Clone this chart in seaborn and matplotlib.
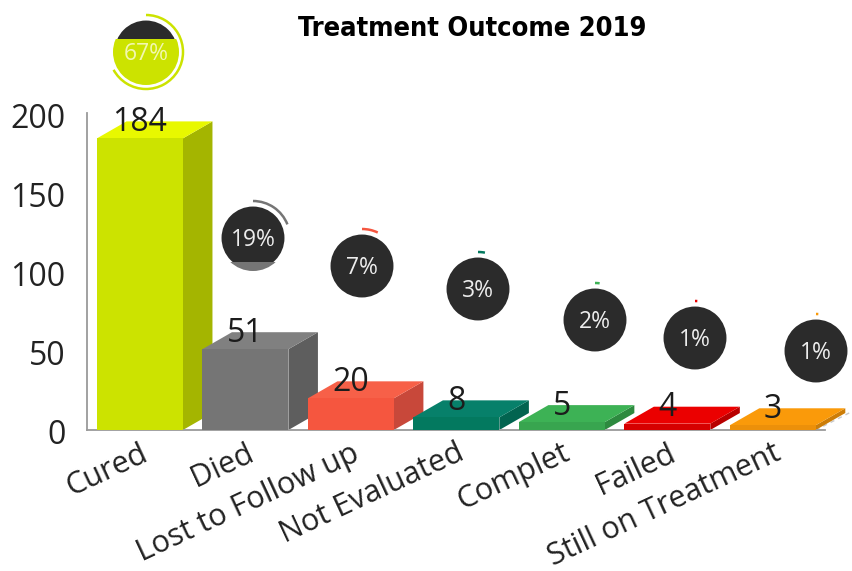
import matplotlib
matplotlib.use("Agg")
import matplotlib.pyplot as plt
import matplotlib.patches as mp
import matplotlib.transforms as mt
import pandas as pd
import seaborn as sns

categories = ["Cured", "Died", "Lost to Follow up", "Not Evaluated", "Complet", "Failed", "Still on Treatment"]
counts = [184, 51, 20, 8, 5, 4, 3]
shares = [67, 19, 7, 3, 2, 1, 1]
front_colors = ["#CCE300", "#757575", "#F5563F", "#03795F", "#38A54F", "#D60000", "#EC900A"]
side_colors = ["#A4B500", "#5E5E5E", "#C8483A", "#026450", "#2D8A3F", "#B80000", "#CC7D08"]
top_colors = ["#E8F800", "#808080", "#F76048", "#07806A", "#3DB255", "#EB0000", "#FA9A0A"]
arc_colors = ["#CCE300", "#757575", "#F5563F", "#03795F", "#3DB255", "#EB0000", "#FA9A0A"]
badge_centers = [(146, 52), (253, 238), (362, 266), (478, 289), (595, 320), (695, 338), (816, 351)]
badge_fill_levels = [0.69, 0.13, 0, 0, 0, 0, 0]

W, H = 852, 571
sns.set_theme(style="white")
plt.rcParams["font.family"] = ["Open Sans", "DejaVu Sans"]

fig = plt.figure(figsize=(W / 100, H / 100), dpi=100, facecolor="white")
ax = fig.add_axes([87 / W, (H - 430) / H, 738 / W, 317 / H])

df = pd.DataFrame({"category": categories, "count": counts})
sns.barplot(data=df, x="category", y="count", hue="category", palette=front_colors,
            dodge=False, width=0.815, saturation=1, legend=False, ax=ax, zorder=3, linewidth=0)
ax.set_xlim(-0.502, 6.495)
ax.set_ylim(0, 200)
ax.set_xlabel("")
ax.set_ylabel("")
ax.set_yticks([0, 50, 100, 150, 200])

# Extruded sides and tops of each block
half = 0.815 / 2
depth_x, depth_y = 0.28, 10.7
for i, (v, side, top) in enumerate(zip(counts, side_colors, top_colors)):
    r = i + half
    l = i - half
    ax.add_patch(mp.Polygon([(r, 0), (r + depth_x, depth_y), (r + depth_x, v + depth_y), (r, v)],
                            fc=side, ec="none", clip_on=False, zorder=2))
    ax.add_patch(mp.Polygon([(l, v), (l + depth_x, v + depth_y), (r + depth_x, v + depth_y), (r, v)],
                            fc=top, ec="none", clip_on=False, zorder=2))
    ax.text(i, v + 10, str(v), ha="center", va="center", fontsize=23, color="#1c1c1c", zorder=6, clip_on=False)

# Receding floor edge past the final block
ax.plot([6 + half, 6 + half + 0.33], [0, depth_y + 0.5], color="#c8c8c8", lw=1, ls=(0, (3, 3)),
        clip_on=False, zorder=1)

for s in ("top", "right"):
    ax.spines[s].set_visible(False)
for s in ("left", "bottom"):
    ax.spines[s].set_color("#9a9a9a")
    ax.spines[s].set_linewidth(1.3)
ax.tick_params(axis="both", length=0)
ax.tick_params(axis="y", pad=15.5, labelsize=23, labelcolor="#222222")
ax.tick_params(axis="x", pad=6, labelsize=22, labelcolor="#222222")
ax.set_xticks(range(len(categories)))
ax.set_xticklabels(categories, rotation=25, ha="right", rotation_mode="anchor")

nudge = mt.ScaledTranslation(0, -2 / 100, fig.dpi_scale_trans)
for label in ax.get_yticklabels():
    label.set_transform(label.get_transform() + nudge)

# Percentage badges, drawn on a pixel-sized overlay
ov = fig.add_axes([0, 0, 1, 1], facecolor="none")
ov.set_xlim(0, W)
ov.set_ylim(H, 0)
ov.axis("off")
radius = 33
for i, (pct, level, (cx, cy)) in enumerate(zip(shares, badge_fill_levels, badge_centers)):
    color = arc_colors[i]
    ov.add_patch(mp.Circle((cx, cy), radius, fc="#2B2B2B", ec="white", lw=2.2, zorder=5))
    if level:
        h = 2 * radius * level
        fill = mp.Rectangle((cx - radius, cy + radius - h), 2 * radius, h, fc=color, ec="none", zorder=6)
        ov.add_patch(fill)
        fill.set_clip_path(mp.Circle((cx, cy), radius, transform=ov.transData))
    ov.add_patch(mp.Arc((cx, cy), 2 * (radius + 4), 2 * (radius + 4), theta1=-90, theta2=-90 + 3.6 * pct,
                        color=color, lw=1.8, zorder=6))
    tc = "#F2F7B0" if i == 0 else "#EDEDED"
    ov.text(cx, cy + 2, f"{pct}%", ha="center", va="center", fontsize=16.5, color=tc, zorder=7)

fig.text(472 / W, 1 - 29 / H, "Treatment Outcome 2019", ha="center", va="center", fontsize=19.5,
         fontweight="bold", color="black", family="DejaVu Sans", stretch="condensed")

fig.savefig("out.png", dpi=100, facecolor="white")
